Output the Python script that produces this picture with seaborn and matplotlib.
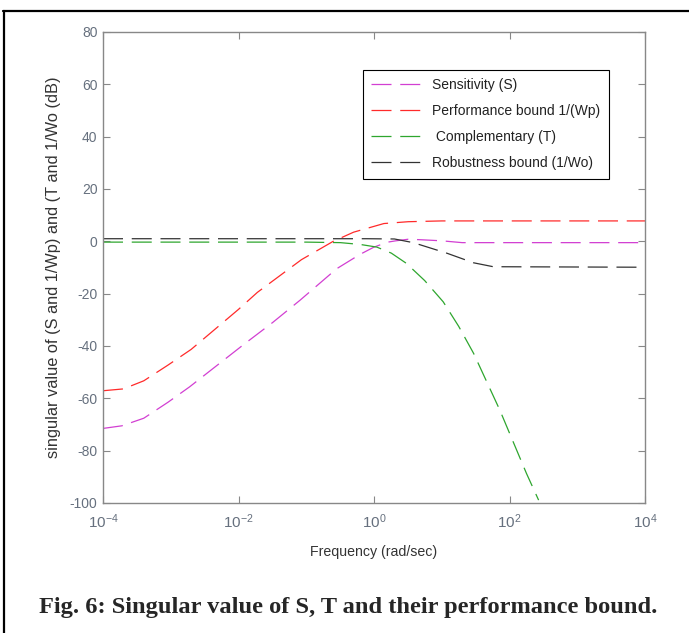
import numpy as np
import pandas as pd
import matplotlib
matplotlib.use("Agg")
import matplotlib.pyplot as plt
import seaborn as sns
from matplotlib.lines import Line2D
from matplotlib.ticker import FixedLocator, LogFormatterSciNotation, NullLocator

# read-off values (frequency in rad/sec, magnitude in dB)
s_freq = [1e-4, 1.9e-4, 4e-4, 9.1e-4, 1.9e-3, 1.17e-2, 3.2e-2, 8.1e-2, 0.28, 0.62, 1.0, 1.6, 2.1, 3.2, 5.0, 10.0, 20.0, 1e4]
s_db = [-71.5, -70.5, -67.6, -61.5, -55.6, -39.6, -31.0, -22.5, -10.5, -5.0, -2.2, -0.3, 0.2, 0.8, 0.6, 0.2, -0.5, -0.5]

wp_freq = [1e-4, 2e-4, 4e-4, 9.1e-4, 2e-3, 1e-2, 1.9e-2, 8.5e-2, 0.25, 0.5, 1.4, 3.2, 10.0, 1e4]
wp_db = [-57.1, -56.4, -53.3, -47.3, -41.3, -26.0, -19.5, -7.0, 0.0, 3.5, 6.8, 7.5, 7.8, 7.8]

t_freq = [1e-4, 0.1, 0.32, 0.63, 1.1, 1.8, 3.0, 5.6, 10.5, 17.8, 29.5, 72.0, 178.0, 269.0]
t_db = [-0.3, -0.3, -0.5, -1.2, -2.2, -4.5, -8.4, -15.0, -23.1, -32.5, -42.8, -64.5, -88.7, -98.9]

wo_freq = [1e-4, 0.78, 2.0, 3.8, 11.8, 29.5, 57.5, 1e4]
wo_db = [1.0, 1.0, 0.9, -0.5, -4.5, -8.2, -9.7, -9.9]

labels = ["Sensitivity (S)", "Performance bound 1/(Wp)", " Complementary (T)", "Robustness bound (1/Wo)"]
colors = ["#d23fd2", "#ff2a2a", "#2ea62e", "#333333"]

sns.set_style("ticks")
plt.rcParams["font.family"] = ["Liberation Sans", "DejaVu Sans"]
plt.rcParams["mathtext.default"] = "regular"
plt.rcParams["axes.unicode_minus"] = False

fig = plt.figure(figsize=(6.89, 6.33), dpi=100)
ax = fig.add_axes([103 / 689, 1 - 503 / 633, 542 / 689, 471 / 633])

series = [(s_freq, s_db), (wp_freq, wp_db), (t_freq, t_db), (wo_freq, wo_db)]
dash = (0, (16, 7))
for (f, v), lab, c in zip(series, labels, colors):
    df = pd.DataFrame({"freq": f, "db": v})
    sns.lineplot(data=df, x="freq", y="db", ax=ax, color=c, linewidth=0.9,
                 linestyle=dash, label=lab, legend=False)

ax.set_xscale("log")
ax.set_xlim(1e-4, 1e4)
ax.set_ylim(-100, 80)
ax.xaxis.set_major_locator(FixedLocator([1e-4, 1e-2, 1, 1e2, 1e4]))
ax.xaxis.set_major_formatter(LogFormatterSciNotation())
ax.xaxis.set_minor_locator(NullLocator())
ax.set_yticks(np.arange(-100, 81, 20))

tick_col = "#66707e"
ax.tick_params(axis="both", which="major", direction="in", length=5, width=0.8,
               color="#888888", labelcolor=tick_col, labelsize=10,
               top=True, right=True, pad=4)
ax.tick_params(axis="x", labelsize=11, pad=7)
for sp in ax.spines.values():
    sp.set_color("#888888")
    sp.set_linewidth(1.0)

ax.set_xlabel("Frequency (rad/sec)", fontsize=10.2, color="#333333", labelpad=10)
ax.set_ylabel("singular value of (S and 1/Wp) and (T and 1/Wo (dB)", fontsize=11.8,
              color="#333333", labelpad=6)

handles = [Line2D([], [], color=c, linewidth=0.9, linestyle=dash) for c in colors]
leg = ax.legend(handles, labels, loc="upper left", bbox_to_anchor=(363 / 689, 1 - 70 / 633),
                bbox_transform=fig.transFigure, borderaxespad=0, fontsize=10,
                handlelength=4.0, handletextpad=0.4, labelspacing=0.86,
                borderpad=0.6, fancybox=False, framealpha=1)
leg.get_frame().set_edgecolor("black")
leg.get_frame().set_linewidth(0.8)
for t in leg.get_texts():
    t.set_color("#222222")

fig.text(0.505, 1 - 607 / 633, "Fig. 6: Singular value of S, T and their performance bound.",
         ha="center", va="center", fontsize=17.6, fontweight="bold",
         family=["Liberation Serif", "DejaVu Serif"])

# page frame around figure
fig.add_artist(Line2D([3 / 689, 1], [1 - 10.5 / 633, 1 - 10.5 / 633], color="black",
                      linewidth=1.6, transform=fig.transFigure))
fig.add_artist(Line2D([4 / 689, 4 / 689], [0, 1 - 10.5 / 633], color="black",
                      linewidth=1.6, transform=fig.transFigure))

fig.savefig("out.png", dpi=100)
